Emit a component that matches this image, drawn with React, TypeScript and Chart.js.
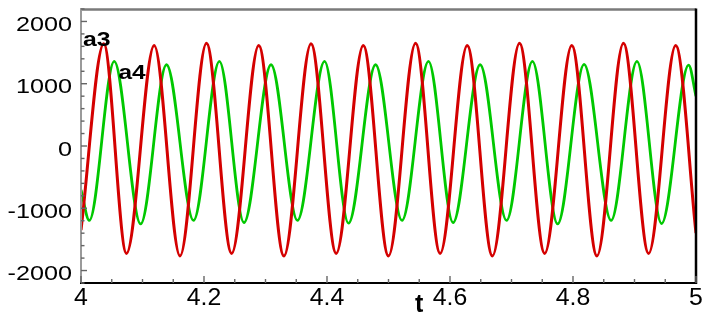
import { useEffect, useRef } from 'react';
import { Chart, registerables } from 'chart.js';

Chart.register(...registerables);

// a3 (red): start, alternating peaks/troughs, end
const a3Times = [4.0, 4.037, 4.074, 4.119, 4.161, 4.204, 4.245, 4.289, 4.33, 4.374, 4.415, 4.459, 4.5, 4.544, 4.584, 4.628, 4.669, 4.713, 4.754, 4.798, 4.839, 4.882, 4.923, 4.967, 5.0];
const a3Values = [-1350, 1640, -1725, 1615, -1765, 1650, -1725, 1615, -1765, 1640, -1725, 1615, -1765, 1650, -1725, 1615, -1765, 1650, -1725, 1615, -1765, 1650, -1725, 1612, -1400];

// a4 (green)
const a4Times = [4.0, 4.0135, 4.054, 4.097, 4.139, 4.183, 4.225, 4.265, 4.309, 4.352, 4.396, 4.435, 4.479, 4.522, 4.565, 4.605, 4.649, 4.692, 4.734, 4.775, 4.818, 4.862, 4.904, 4.944, 4.988, 5.0];
const a4Values = [-705, -1195, 1360, -1250, 1305, -1195, 1360, -1230, 1305, -1195, 1360, -1240, 1305, -1195, 1360, -1230, 1305, -1195, 1360, -1250, 1310, -1195, 1360, -1245, 1300, 800];

const xMajorTicks = [4, 4.2, 4.4, 4.6, 4.8, 5];
const xTickLabels = ['4', '4.2', '4.4', '4.6', '4.8', '5'];
const xMinorTicks = [4.05, 4.1, 4.15, 4.25, 4.3, 4.35, 4.45, 4.5, 4.55, 4.65, 4.7, 4.75, 4.85, 4.9, 4.95];
const yMajorTicks = [-2000, -1000, 0, 1000, 2000];
const yTickLabels = ['-2000', '-1000', '0', '1000', '2000'];
const yMinorTicks = [-2200, -1800, -1600, -1400, -1200, -800, -600, -400, -200, 200, 400, 600, 800, 1200, 1400, 1600, 1800, 2200];

const seriesLabels = ['a3', 'a4'];
const xTitle = 't';

const FONT = '"Liberation Sans", Arial, sans-serif';

const axesPlugin = {
  id: 'customAxes',
  afterDraw(chart: any) {
    const { ctx, chartArea: a, scales } = chart;
    const x = scales.x;
    const y = scales.y;
    ctx.save();
    // frame
    ctx.lineWidth = 2.4;
    ctx.strokeStyle = '#7a7a7a';
    ctx.beginPath();
    ctx.moveTo(a.left - 1, a.top + 0.5);
    ctx.lineTo(a.right, a.top + 0.5);
    ctx.stroke();
    ctx.strokeStyle = '#9a9a9a';
    ctx.lineWidth = 2;
    ctx.beginPath();
    ctx.moveTo(a.left, a.top);
    ctx.lineTo(a.left, a.bottom);
    ctx.stroke();
    ctx.strokeStyle = '#000';
    ctx.lineWidth = 2.2;
    ctx.beginPath();
    ctx.moveTo(a.left - 1, a.bottom);
    ctx.lineTo(a.right + 1, a.bottom);
    ctx.stroke();
    ctx.lineWidth = 2.5;
    ctx.beginPath();
    ctx.moveTo(a.right, a.top - 0.5);
    ctx.lineTo(a.right, a.bottom + 1);
    ctx.stroke();

    // ticks
    ctx.strokeStyle = '#666';
    ctx.lineWidth = 1.4;
    const vtick = (v: number, len: number) => {
      const py = y.getPixelForValue(v);
      ctx.beginPath();
      ctx.moveTo(a.left, py);
      ctx.lineTo(a.left + len, py);
      ctx.stroke();
    };
    const htick = (v: number, len: number) => {
      const px = x.getPixelForValue(v);
      ctx.beginPath();
      ctx.moveTo(px, a.bottom);
      ctx.lineTo(px, a.bottom - len);
      ctx.stroke();
    };
    yMinorTicks.forEach((v) => vtick(v, 3.5));
    yMajorTicks.forEach((v) => vtick(v, 6));
    xMinorTicks.forEach((v) => htick(v, 4));
    xMajorTicks.forEach((v) => htick(v, 7));

    // tick labels
    ctx.fillStyle = '#000';
    ctx.font = `21px ${FONT}`;
    ctx.textAlign = 'right';
    ctx.textBaseline = 'alphabetic';
    yMajorTicks.forEach((v, i) => {
      const py = y.getPixelForValue(v);
      ctx.save();
      ctx.translate(a.left - 9, py + 9.5);
      ctx.scale(1.2, 1);
      ctx.fillText(yTickLabels[i], 0, 0);
      ctx.restore();
    });
    ctx.font = `23px ${FONT}`;
    ctx.textAlign = 'center';
    xMajorTicks.forEach((v, i) => {
      const px = x.getPixelForValue(v);
      ctx.save();
      ctx.translate(px, a.bottom + 22);
      ctx.scale(1.08, 1);
      ctx.fillText(xTickLabels[i], 0, 0);
      ctx.restore();
    });

    // axis title
    ctx.font = `bold 25px ${FONT}`;
    ctx.textAlign = 'left';
    ctx.fillText(xTitle, 415, a.bottom + 28.5);

    // series labels
    ctx.font = `bold 20px ${FONT}`;
    ctx.save();
    ctx.translate(83, 45.5);
    ctx.scale(1.24, 1);
    ctx.fillText(seriesLabels[0], 0, 0);
    ctx.restore();
    ctx.save();
    ctx.translate(118.5, 78.5);
    ctx.scale(1.22, 1);
    ctx.fillText(seriesLabels[1], 0, 0);
    ctx.restore();
    ctx.restore();
  },
};

export default function App() {
  const ref = useRef<HTMLCanvasElement | null>(null);
  useEffect(() => {
    if (!ref.current) return;
    const chart = new Chart(ref.current, {
      type: 'line',
      data: {
        datasets: [
          {
            label: seriesLabels[0],
            data: a3Times.map((t, i) => ({ x: t, y: a3Values[i] })),
            borderColor: '#d40000',
            borderWidth: 3,
            pointRadius: 0,
            cubicInterpolationMode: 'monotone',
            fill: false,
          },
          {
            label: seriesLabels[1],
            data: a4Times.map((t, i) => ({ x: t, y: a4Values[i] })),
            borderColor: '#00c800',
            borderWidth: 2.8,
            pointRadius: 0,
            cubicInterpolationMode: 'monotone',
            fill: false,
          },
        ],
      },
      options: {
        animation: false,
        responsive: false,
        maintainAspectRatio: false,
        layout: { padding: { left: 81, right: 13, top: 9, bottom: 35 } },
        plugins: { legend: { display: false }, tooltip: { enabled: false } },
        scales: {
          x: { type: 'linear', min: 4, max: 5, display: false },
          y: { type: 'linear', min: -2200, max: 2200, display: false },
        },
      },
      plugins: [axesPlugin],
    } as any);
    return () => chart.destroy();
  }, []);
  return (
    <div style={{ position: 'fixed', left: 0, top: 0, width: 709, height: 318, background: '#fff' }}>
      <canvas ref={ref} width={709} height={318} style={{ display: 'block' }} />
    </div>
  );
}
